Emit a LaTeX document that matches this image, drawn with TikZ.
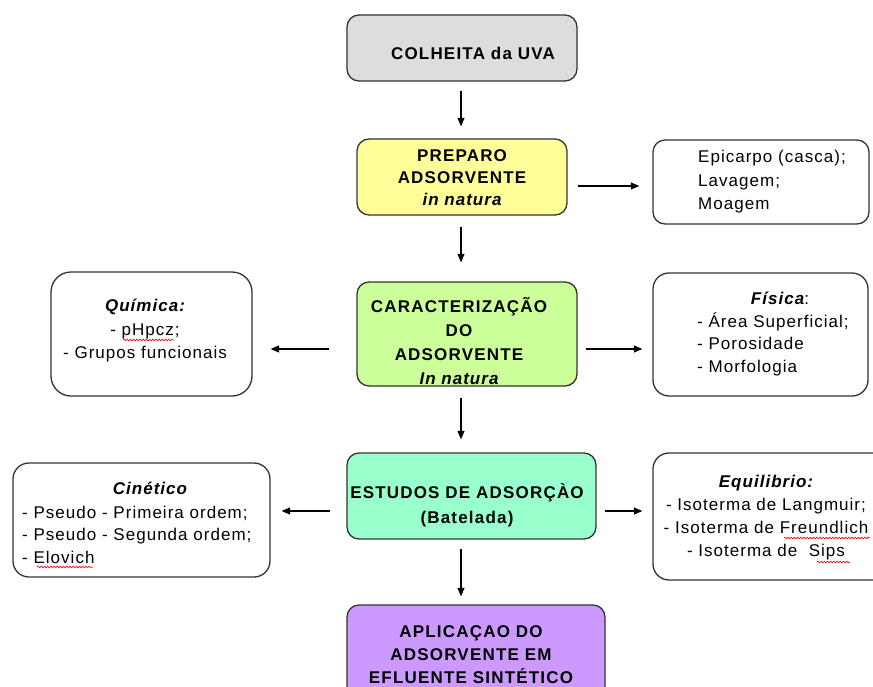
\documentclass[tikz,border=0pt]{standalone}
\usepackage{fontspec}
\setmainfont{Liberation Sans}[LetterSpace=6, BoldFeatures={LetterSpace=7}, BoldItalicFeatures={LetterSpace=6}]
\usetikzlibrary{arrows.meta,decorations.pathmorphing}
\definecolor{cgray}{HTML}{DDDDDD}
\definecolor{cyellow}{HTML}{FFFF99}
\definecolor{cgreen}{HTML}{CCFF99}
\definecolor{cmint}{HTML}{99FFCC}
\definecolor{cpurple}{HTML}{CC99FF}
\definecolor{cline}{HTML}{333333}
\tikzset{
  box/.style={draw=cline, line width=1.3pt, rounded corners=12pt, inner sep=0pt},
  arr/.style={-{Triangle[length=8.5pt,width=7pt]}, line width=1.1pt, black},
  txt/.style={inner sep=0pt, font=\fontsize{17}{23}\selectfont},
  btxt/.style={inner sep=0pt, font=\fontsize{17}{23}\selectfont\bfseries},
  spell/.style={draw=red, line width=0.6pt, decorate, decoration={snake, amplitude=0.9pt, segment length=3.2pt}}
}
\begin{document}
\begin{tikzpicture}[x=1pt,y=-1pt]
\useasboundingbox (0,0) rectangle (873,686);
% boxes
\node[box, fill=cgray, minimum width=230pt, minimum height=66pt] (colheita) at (462,48) {};
\node[box, fill=cyellow, minimum width=210pt, minimum height=76pt] (prep) at (462,177) {};
\node[box, minimum width=216pt, minimum height=84pt] (epi) at (761,182) {};
\node[box, fill=cgreen, minimum width=220pt, minimum height=104pt] (carac) at (467,334) {};
\node[box, rounded corners=20pt, minimum width=201pt, minimum height=124pt] (quim) at (151.5,334) {};
\node[box, rounded corners=16pt, minimum width=215pt, minimum height=123pt] (fis) at (760.5,334.5) {};
\node[box, fill=cmint, minimum width=249pt, minimum height=86pt] (est) at (471.5,496) {};
\node[box, rounded corners=16pt, minimum width=257pt, minimum height=114pt] (cin) at (141.5,520) {};
\node[box, rounded corners=16pt, minimum width=240pt, minimum height=127pt] (equ) at (773,516.5) {};
\node[box, fill=cpurple, minimum width=258pt, minimum height=100pt] (apl) at (476,655) {};
% texts
\node[btxt] (tcol) at (473,53) {COLHEITA da UVA};
\node[btxt, align=center, font=\fontsize{17}{22}\selectfont\bfseries] (tprep) at (462,178) {PREPARO\\ADSORVENTE\\\itshape in natura};
\node[txt, align=left, anchor=west, font=\fontsize{17}{23.5}\selectfont] (tepi) at (698,182) {Epicarpo (casca);\\Lavagem;\\Moagem};
\node[btxt, align=center, font=\fontsize{17}{24}\selectfont\bfseries] (tcar) at (459,341) {CARACTERIZAÇÃO\\DO\\ADSORVENTE\\\itshape In natura};
\node[txt, align=center, font=\fontsize{17}{23.5}\selectfont] (tquim) at (145,331) {\bfseries\itshape Química:\\- pHpcz;\\- Grupos funcionais};
\node[txt] (tfis1) at (780,298) {\bfseries\itshape Física\normalfont:};
\node[txt, align=left, anchor=west, font=\fontsize{17}{22.5}\selectfont] (tfis2) at (697,344) {- Área Superficial;\\- Porosidade\\- Morfologia};
\node[btxt, align=center, font=\fontsize{17}{25}\selectfont\bfseries] (test) at (467,505) {ESTUDOS DE ADSORÇÀO\\(Batelada)};
\node[txt] (tcin1) at (150,488) {\bfseries\itshape Cinético};
\node[txt, align=left, anchor=west, font=\fontsize{17}{22.5}\selectfont] (tcin2) at (22,534.5) {- Pseudo - Primeira ordem;\\- Pseudo - Segunda ordem;\\- Elovich};
\node[txt, align=center] (tequ) at (766,517.5) {\bfseries\itshape Equilibrio:\\- Isoterma de Langmuir;\\- Isoterma de Freundlich\\- Isoterma de\ \ Sips};
\node[btxt, align=center] (tapl) at (471,655) {APLICAÇAO DO\\ADSORVENTE EM\\EFLUENTE SINTÉTICO};
% spell-check marks
\draw[spell] (123,340) -- (174,340);
\draw[spell] (37,567) -- (93,567);
\draw[spell] (784,538) -- (870,538);
\draw[spell] (817,562) -- (850,562);
% connectors
\draw[arr] ([xshift=-1pt,yshift=-9pt]colheita.south) -- ([xshift=-1pt,yshift=12pt]prep.north);
\draw[arr] ([xshift=10pt,yshift=-9pt]prep.east) -- ([xshift=-13pt,yshift=-4pt]epi.west);
\draw[arr] ([xshift=-1pt,yshift=-11pt]prep.south) -- ([xshift=-1pt,yshift=19pt]prep.south |- carac.north);
\draw[arr] ([xshift=-27pt,yshift=-15pt]carac.west) -- ([xshift=18pt,yshift=-15pt]quim.east);
\draw[arr] ([xshift=8pt,yshift=-15pt]carac.east) -- ([xshift=-10pt,yshift=-14.5pt]fis.west);
\draw[arr] ([xshift=-6pt,yshift=-11pt]carac.south) -- ([xshift=-6pt,yshift=13pt]carac.south |- est.north);
\draw[arr] ([xshift=-16pt,yshift=-15pt]est.west) -- ([xshift=11pt,yshift=9pt]cin.east);
\draw[arr] ([xshift=8pt,yshift=-15pt]est.east) -- ([xshift=-10pt,yshift=5.5pt]equ.west);
\draw[arr] ([xshift=-10.5pt,yshift=-9pt]est.south) -- ([xshift=-10.5pt,yshift=8pt]est.south |- apl.north);
\end{tikzpicture}
\end{document}
